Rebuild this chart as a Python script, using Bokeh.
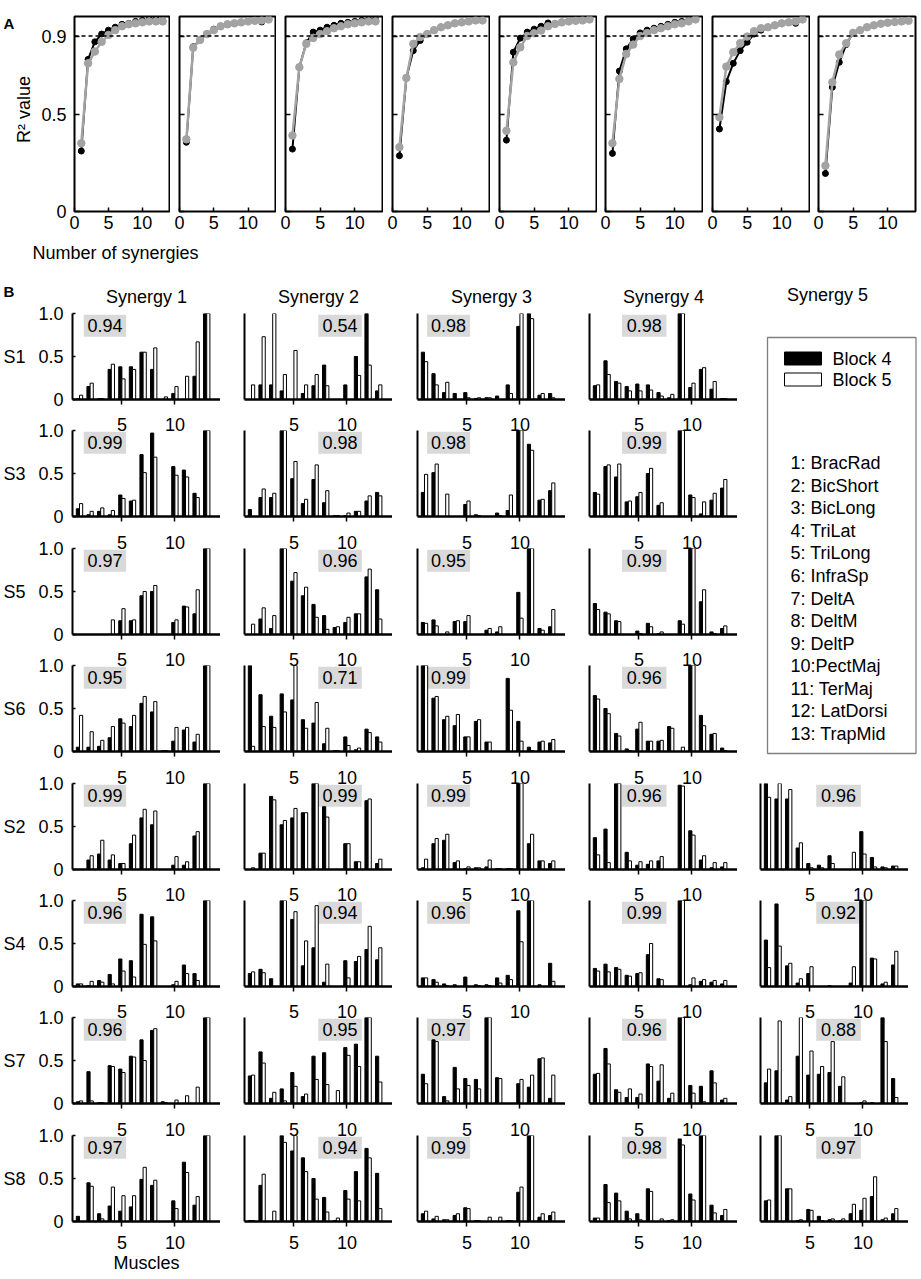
import numpy as np
from bokeh.plotting import figure
from bokeh.layouts import row, column
from bokeh.models import Range1d, FixedTicker, LinearAxis, Span
from bokeh.embed import file_html
from bokeh.resources import INLINE
from bokeh.core.properties import value

FONT = "Liberation Sans"
GREY = "#a3a3a3"
BOXGREY = "#d9d9d9"

# ---------------- Panel A data: R^2 vs number of synergies ----------------
n_synergies = list(range(1, 14))
p1_block4 = [0.31, 0.78, 0.87, 0.91, 0.93, 0.945, 0.96, 0.965, 0.975, 0.98, 0.985, 0.985, 0.98]
p1_block5 = [0.35, 0.76, 0.82, 0.87, 0.905, 0.93, 0.95, 0.96, 0.965, 0.97, 0.975, 0.975, 0.975]
p2_block4 = [0.355, 0.845, 0.88, 0.91, 0.935, 0.95, 0.96, 0.965, 0.97, 0.975, 0.98, 0.972, 0.985]
p2_block5 = [0.37, 0.84, 0.88, 0.91, 0.93, 0.95, 0.96, 0.965, 0.97, 0.975, 0.978, 0.98, 0.985]
p3_block4 = [0.32, 0.74, 0.865, 0.92, 0.93, 0.945, 0.955, 0.965, 0.97, 0.975, 0.98, 0.985, 0.985]
p3_block5 = [0.39, 0.74, 0.86, 0.89, 0.91, 0.925, 0.94, 0.95, 0.96, 0.965, 0.97, 0.975, 0.975]
p4_block4 = [0.286, 0.685, 0.825, 0.877, 0.91, 0.93, 0.945, 0.955, 0.965, 0.97, 0.975, 0.98, 0.98]
p4_block5 = [0.33, 0.685, 0.86, 0.895, 0.91, 0.93, 0.945, 0.955, 0.965, 0.97, 0.975, 0.98, 0.98]
p5_block4 = [0.366, 0.817, 0.889, 0.92, 0.935, 0.95, 0.967, 0.962, 0.97, 0.975, 0.978, 0.98, 0.985]
p5_block5 = [0.414, 0.765, 0.842, 0.90, 0.914, 0.928, 0.95, 0.962, 0.97, 0.975, 0.978, 0.98, 0.985]
p6_block4 = [0.298, 0.72, 0.834, 0.885, 0.916, 0.93, 0.94, 0.95, 0.96, 0.97, 0.975, 0.98, 0.985]
p6_block5 = [0.35, 0.68, 0.808, 0.856, 0.90, 0.915, 0.93, 0.94, 0.95, 0.96, 0.965, 0.975, 0.985]
p7_block4 = [0.423, 0.666, 0.76, 0.825, 0.868, 0.91, 0.93, 0.945, 0.955, 0.965, 0.97, 0.965, 0.985]
p7_block5 = [0.483, 0.743, 0.817, 0.863, 0.897, 0.925, 0.94, 0.945, 0.955, 0.965, 0.97, 0.975, 0.985]
p8_block4 = [0.195, 0.637, 0.765, 0.856, 0.916, 0.93, 0.945, 0.955, 0.963, 0.968, 0.972, 0.975, 0.978]
p8_block5 = [0.235, 0.663, 0.805, 0.863, 0.916, 0.93, 0.945, 0.955, 0.963, 0.968, 0.972, 0.975, 0.978]
panelA_block4 = [p1_block4, p2_block4, p3_block4, p4_block4, p5_block4, p6_block4, p7_block4, p8_block4]
panelA_block5 = [p1_block5, p2_block5, p3_block5, p4_block5, p5_block5, p6_block5, p7_block5, p8_block5]
r2_threshold = 0.9
A_yticks = [0, 0.5, 0.9]
A_xticks = [0, 5, 10]

# ---------------- Panel B data: synergy weights per muscle ----------------
muscles = list(range(1, 14))
muscle_names = ["1: BracRad", "2: BicShort", "3: BicLong", "4: TriLat", "5: TriLong",
                "6: InfraSp", "7: DeltA", "8: DeltM", "9: DeltP", "10:PectMaj",
                "11: TerMaj", "12: LatDorsi", "13: TrapMid"]
subjects = ["S1", "S3", "S5", "S6", "S2", "S4", "S7", "S8"]
synergy_titles = ["Synergy 1", "Synergy 2", "Synergy 3", "Synergy 4", "Synergy 5"]
block_labels = ["Block 4", "Block 5"]
block_fills = ["black", "white"]

S1_block4 = [[0.01, 0.15, 0.01, 0.35, 0.38, 0.38, 0.55, 0.35, 0.0, 0.07, 0.0, 0.27, 1.0],
             [0.0, 0.17, 0.17, 0.10, 0.0, 0.07, 0.16, 0.40, 0.0, 0.17, 0.50, 1.0, 0.10],
             [0.55, 0.30, 0.08, 0.07, 0.08, 0.01, 0.02, 0.04, 0.17, 0.85, 1.0, 0.05, 0.07],
             [0.16, 0.45, 0.21, 0.15, 0.18, 0.17, 0.08, 0.02, 1.0, 0.14, 0.35, 0.12, 0.01]]
S1_block5 = [[0.05, 0.19, 0.01, 0.41, 0.24, 0.35, 0.55, 0.60, 0.03, 0.15, 0.27, 0.67, 1.0],
             [0.17, 0.73, 1.0, 0.29, 0.57, 0.17, 0.29, 0.16, 0.0, 0.0, 0.28, 0.40, 0.17],
             [0.44, 0.17, 0.20, 0.0, 0.02, 0.02, 0.02, 0.0, 0.07, 1.0, 0.94, 0.07, 0.02],
             [0.17, 0.29, 0.19, 0.10, 0.10, 0.11, 0.04, 0.06, 1.0, 0.19, 0.37, 0.21, 0.01]]
S1_r2 = [0.94, 0.54, 0.98, 0.98]

S3_block4 = [[0.09, 0.02, 0.06, 0.02, 0.25, 0.18, 0.72, 0.97, 0.0, 0.58, 0.54, 0.27, 1.0],
             [0.08, 0.22, 0.22, 1.0, 0.44, 0.15, 0.43, 0.16, 0.01, 0.01, 0.06, 0.18, 0.28],
             [0.28, 0.51, 0.0, 0.0, 0.14, 0.02, 0.0, 0.04, 0.07, 1.0, 0.84, 0.19, 0.30],
             [0.28, 0.58, 0.46, 0.17, 0.23, 0.50, 0.13, 0.0, 1.0, 0.25, 0.03, 0.19, 0.33]]
S3_block5 = [[0.15, 0.06, 0.10, 0.07, 0.21, 0.19, 0.51, 0.69, 0.0, 0.48, 0.46, 0.22, 1.0],
             [0.0, 0.32, 0.27, 1.0, 0.64, 0.20, 0.60, 0.30, 0.01, 0.04, 0.06, 0.24, 0.24],
             [0.49, 0.61, 0.26, 0.0, 0.18, 0.01, 0.0, 0.01, 0.25, 1.0, 0.77, 0.20, 0.39],
             [0.26, 0.60, 0.61, 0.18, 0.28, 0.56, 0.16, 0.0, 1.0, 0.22, 0.17, 0.27, 0.43]]
S3_r2 = [0.99, 0.98, 0.98, 0.99]

S5_block4 = [[0.0, 0.0, 0.0, 0.0, 0.16, 0.16, 0.45, 0.50, 0.0, 0.14, 0.33, 0.24, 1.0],
             [0.0, 0.18, 0.07, 1.0, 0.62, 0.45, 0.35, 0.22, 0.08, 0.14, 0.24, 0.67, 0.52],
             [0.14, 0.17, 0.0, 0.15, 0.15, 0.0, 0.05, 0.03, 0.0, 0.49, 1.0, 0.07, 0.09],
             [0.36, 0.26, 0.16, 0.0, 0.04, 0.13, 0.01, 0.0, 0.16, 1.0, 0.38, 0.03, 0.07]]
S5_block5 = [[0.0, 0.0, 0.0, 0.17, 0.30, 0.17, 0.50, 0.57, 0.0, 0.17, 0.32, 0.52, 1.0],
             [0.12, 0.31, 0.22, 1.0, 0.72, 0.55, 0.20, 0.06, 0.09, 0.20, 0.24, 0.76, 0.18],
             [0.13, 0.10, 0.03, 0.16, 0.22, 0.0, 0.07, 0.09, 0.0, 0.19, 1.0, 0.05, 0.29],
             [0.29, 0.24, 0.15, 0.0, 0.01, 0.09, 0.03, 0.0, 0.12, 1.0, 0.52, 0.01, 0.10]]
S5_r2 = [0.97, 0.96, 0.95, 0.99]

S6_block4 = [[0.05, 0.05, 0.06, 0.16, 0.38, 0.29, 0.56, 0.46, 0.01, 0.12, 0.25, 0.11, 1.0],
             [1.0, 0.66, 0.41, 0.67, 0.60, 0.37, 0.33, 0.09, 0.01, 0.17, 0.02, 0.26, 0.17],
             [1.0, 0.62, 0.37, 0.30, 0.17, 0.35, 0.11, 0.0, 0.85, 0.35, 0.05, 0.11, 0.10],
             [0.65, 0.50, 0.21, 0.03, 0.26, 0.12, 0.12, 0.29, 0.0, 1.0, 0.42, 0.20, 0.04]]
S6_block5 = [[0.42, 0.23, 0.13, 0.29, 0.33, 0.42, 0.64, 0.58, 0.01, 0.28, 0.28, 0.20, 1.0],
             [0.06, 0.29, 0.28, 0.46, 1.0, 0.27, 0.57, 0.27, 0.01, 0.07, 0.04, 0.22, 0.11],
             [1.0, 0.64, 0.41, 0.43, 0.17, 0.37, 0.11, 0.0, 0.48, 0.12, 0.01, 0.12, 0.14],
             [0.61, 0.44, 0.18, 0.01, 0.34, 0.12, 0.13, 0.27, 0.05, 1.0, 0.30, 0.21, 0.01]]
S6_r2 = [0.95, 0.71, 0.99, 0.96]

S2_block4 = [[0.0, 0.11, 0.18, 0.11, 0.07, 0.30, 0.60, 0.52, 0.0, 0.05, 0.05, 0.39, 1.0],
             [0.0, 0.19, 0.85, 0.52, 0.60, 0.66, 1.0, 0.73, 0.0, 0.30, 0.09, 0.80, 0.07],
             [0.02, 0.30, 0.34, 0.08, 0.01, 0.02, 0.03, 0.01, 0.01, 1.0, 0.30, 0.10, 0.07],
             [0.37, 0.47, 1.0, 0.20, 0.05, 0.06, 0.10, 0.0, 0.98, 0.45, 0.11, 0.02, 0.03],
             [1.0, 0.82, 0.82, 0.25, 0.07, 0.05, 0.16, 0.0, 0.0, 0.44, 0.14, 0.03, 0.04]]
S2_block5 = [[0.0, 0.16, 0.34, 0.17, 0.07, 0.40, 0.70, 0.68, 0.0, 0.15, 0.09, 0.44, 1.0],
             [0.02, 0.19, 0.81, 0.57, 0.71, 0.66, 1.0, 0.61, 0.0, 0.30, 0.09, 0.82, 0.12],
             [0.12, 0.36, 0.41, 0.10, 0.03, 0.02, 0.11, 0.01, 0.01, 1.0, 0.41, 0.10, 0.10],
             [0.17, 0.08, 1.0, 0.10, 0.09, 0.10, 0.15, 0.0, 0.97, 0.40, 0.16, 0.08, 0.08],
             [0.84, 1.0, 0.93, 0.31, 0.02, 0.02, 0.07, 0.0, 0.20, 0.18, 0.03, 0.02, 0.04]]
S2_r2 = [0.99, 0.99, 0.99, 0.96, 0.96]

S4_block4 = [[0.03, 0.01, 0.07, 0.14, 0.32, 0.30, 0.84, 0.81, 0.0, 0.02, 0.25, 0.15, 1.0],
             [0.15, 0.20, 0.09, 1.0, 0.78, 0.24, 0.45, 0.05, 0.0, 0.30, 0.29, 0.43, 0.31],
             [0.10, 0.08, 0.03, 0.02, 0.11, 0.02, 0.02, 0.10, 0.13, 0.88, 1.0, 0.02, 0.27],
             [0.21, 0.26, 0.22, 0.13, 0.15, 0.37, 0.09, 0.0, 1.0, 0.02, 0.06, 0.05, 0.03],
             [0.54, 0.96, 0.24, 0.04, 0.15, 0.0, 0.01, 0.0, 0.04, 1.0, 0.33, 0.03, 0.25]]
S4_block5 = [[0.03, 0.06, 0.05, 0.03, 0.18, 0.11, 0.49, 0.53, 0.0, 0.06, 0.15, 0.07, 1.0],
             [0.17, 0.16, 0.0, 1.0, 0.87, 0.53, 0.94, 0.26, 0.0, 0.10, 0.35, 0.70, 0.45],
             [0.10, 0.05, 0.01, 0.0, 0.0, 0.01, 0.01, 0.04, 0.08, 0.52, 1.0, 0.0, 0.06],
             [0.18, 0.17, 0.20, 0.12, 0.16, 0.50, 0.08, 0.0, 1.0, 0.10, 0.08, 0.07, 0.07],
             [0.22, 0.47, 0.27, 0.09, 0.23, 0.0, 0.0, 0.0, 0.23, 1.0, 0.32, 0.05, 0.41]]
S4_r2 = [0.96, 0.94, 0.96, 0.99, 0.92]

S7_block4 = [[0.02, 0.37, 0.01, 0.44, 0.40, 0.55, 0.74, 0.85, 0.02, 0.0, 0.0, 0.0, 1.0],
             [0.32, 0.60, 0.06, 0.17, 0.36, 0.08, 0.55, 0.59, 0.0, 0.65, 0.69, 1.0, 0.55],
             [0.34, 0.74, 0.08, 0.42, 0.29, 0.28, 1.0, 0.30, 0.0, 0.23, 0.19, 0.52, 0.06],
             [0.34, 0.64, 0.16, 0.07, 0.07, 0.46, 0.26, 0.06, 1.0, 0.21, 0.20, 0.38, 0.04],
             [0.24, 0.38, 0.04, 0.55, 0.33, 0.34, 0.36, 0.20, 0.0, 0.01, 0.01, 1.0, 0.29]]
S7_block5 = [[0.03, 0.03, 0.01, 0.43, 0.36, 0.54, 0.50, 0.87, 0.01, 0.04, 0.09, 0.19, 1.0],
             [0.33, 0.47, 0.13, 0.03, 0.20, 0.11, 0.28, 0.22, 0.15, 0.56, 0.43, 1.0, 0.25],
             [0.23, 0.72, 0.03, 0.17, 0.21, 0.17, 1.0, 0.29, 0.0, 0.28, 0.33, 0.53, 0.33],
             [0.35, 0.46, 0.13, 0.17, 0.11, 0.43, 0.45, 0.12, 1.0, 0.12, 0.02, 0.24, 0.06],
             [0.40, 0.96, 0.08, 1.0, 0.61, 0.43, 0.72, 0.31, 0.0, 0.03, 0.0, 0.72, 0.07]]
S7_r2 = [0.96, 0.95, 0.97, 0.96, 0.88]

S8_block4 = [[0.06, 0.45, 0.09, 0.18, 0.12, 0.17, 0.49, 0.42, 0.0, 0.24, 0.69, 0.19, 1.0],
             [0.01, 0.42, 0.0, 1.0, 0.82, 0.74, 0.50, 0.28, 0.01, 0.36, 0.58, 0.85, 0.56],
             [0.09, 0.03, 0.02, 0.07, 0.16, 0.01, 0.0, 0.0, 0.01, 0.34, 1.0, 0.05, 0.07],
             [0.04, 0.43, 0.33, 0.12, 0.09, 0.38, 0.0, 0.01, 0.96, 0.32, 1.0, 0.19, 0.07],
             [0.24, 1.0, 0.38, 0.01, 0.14, 0.06, 0.02, 0.01, 0.09, 0.13, 0.29, 0.02, 0.09]]
S8_block5 = [[0.0, 0.41, 0.03, 0.40, 0.30, 0.30, 0.63, 0.48, 0.0, 0.15, 0.57, 0.29, 1.0],
             [0.01, 0.55, 0.12, 0.92, 1.0, 0.58, 0.26, 0.11, 0.04, 0.26, 0.24, 0.74, 0.15],
             [0.12, 0.06, 0.02, 0.09, 0.15, 0.01, 0.05, 0.05, 0.01, 0.40, 1.0, 0.09, 0.11],
             [0.04, 0.22, 0.24, 0.03, 0.02, 0.35, 0.03, 0.02, 0.89, 0.25, 1.0, 0.10, 0.14],
             [0.25, 1.0, 0.38, 0.02, 0.13, 0.01, 0.03, 0.03, 0.20, 0.27, 0.52, 0.04, 0.15]]
S8_r2 = [0.97, 0.94, 0.99, 0.98, 0.97]

block4_by_subject = [S1_block4, S3_block4, S5_block4, S6_block4, S2_block4, S4_block4, S7_block4, S8_block4]
block5_by_subject = [S1_block5, S3_block5, S5_block5, S6_block5, S2_block5, S4_block5, S7_block5, S8_block5]
r2_by_subject = [S1_r2, S3_r2, S5_r2, S6_r2, S2_r2, S4_r2, S7_r2, S8_r2]
B_yticks = [0, 0.5, 1]
B_xticks = [5, 10]

# ---------------- layout constants (pixels) ----------------
LA_W = 38
A_TOP, A_FH, A_BOT = 16, 195, 27
A_H = A_TOP + A_FH + A_BOT
A_LEFT = [35, 9, 9, 9, 9, 8, 9, 8]
A_FW = [96, 96, 97, 97, 97, 97, 97, 97]
A_RIGHT = [1, 1, 1, 1, 1, 1, 1, 2]
NA_H = 28

LB_W = 30
B_LEFT = [42, 24, 25, 24, 23]
FW, FH = 148, 86
B_TOPS = [47, 21, 22, 21, 22, 21, 21, 22]
B_BOTS = [10, 10, 10, 10, 10, 10, 10, 57]
X_START, X_END = 0.34, 14.3
BAR_W, BAR_OFF = 0.3, 0.15
BOX_X = [(1.4, 5.4), (7.3, 11.4), (1.25, 5.3), (3.4, 7.6), (5.6, 9.8)]
BOX_Y = (0.73, 0.985)


def fontify_axis(ax, hidden=False):
    ax.major_label_text_font = FONT
    ax.major_label_text_font_size = "1px" if hidden else "18px"
    ax.major_label_text_color = None if hidden else "black"
    ax.axis_label_text_font = FONT
    ax.axis_label_text_font_size = "18px"
    ax.axis_label_text_font_style = "normal"
    ax.axis_label_text_color = "black"
    ax.minor_tick_line_color = None


def blank_fig(w, h):
    p = figure(width=w, height=h, x_range=Range1d(0, w), y_range=Range1d(h, 0),
               x_axis_location=None, y_axis_location=None, min_border=0, title=None,
               toolbar_location=None, output_backend="svg")
    p.outline_line_color = None
    p.grid.visible = False
    return p


# ---------------- Panel A ----------------
def make_A(i):
    p = figure(width=A_LEFT[i] + A_FW[i] + A_RIGHT[i], height=A_H,
               x_range=Range1d(0, 14), y_range=Range1d(0, 1.0),
               min_border_left=A_LEFT[i], min_border_right=A_RIGHT[i],
               min_border_top=A_TOP, min_border_bottom=A_BOT,
               toolbar_location=None, output_backend="svg")
    p.outline_line_color = "black"
    p.outline_line_width = 2
    p.xgrid.visible = False
    p.ygrid.visible = False
    xa = p.below[0]
    fontify_axis(xa)
    xa.ticker = FixedTicker(ticks=A_xticks)
    xa.axis_line_color = None
    xa.major_tick_in = 4
    xa.major_tick_out = 0
    xa.major_tick_line_width = 1.5
    xa.major_label_standoff = 4
    ya = p.left[0]
    ya.ticker = FixedTicker(ticks=A_yticks)
    ya.axis_line_color = None
    ya.major_tick_in = 5
    ya.major_tick_out = 0
    ya.major_tick_line_width = 1.5
    if i == 0:
        fontify_axis(ya)
        ya.major_label_overrides = {0: "0", 0.5: "0.5", 0.9: "0.9"}
        ya.major_label_standoff = 8
    else:
        fontify_axis(ya, hidden=True)
        ya.major_label_standoff = 0
    p.add_layout(Span(location=r2_threshold, dimension="width", line_color="black",
                      line_width=1.5, line_dash="4 3"))
    p.line(n_synergies, panelA_block4[i], line_color="black", line_width=2)
    p.scatter(n_synergies, panelA_block4[i], size=6, fill_color="black", line_color="black")
    p.line(n_synergies, panelA_block5[i], line_color=GREY, line_width=2.5)
    p.scatter(n_synergies, panelA_block5[i], size=7.5, fill_color=GREY, line_color=GREY)
    return p


la = blank_fig(LA_W, A_H)
la.text(x=[3], y=[8], text=["A"], text_font=value(FONT), text_font_size="15px",
        text_font_style="bold", text_align="left", text_baseline="middle", text_color="black")
la.text(x=[23], y=[A_TOP + A_FH / 2], text=["R\u00b2 value"], angle=np.pi / 2,
        text_font=value(FONT), text_font_size="18px", text_align="center",
        text_baseline="middle", text_color="black")

rowA = row([la] + [make_A(i) for i in range(8)])

na = blank_fig(260, NA_H)
na.text(x=[115], y=[14], text=["Number of synergies"], text_font=value(FONT),
        text_font_size="18px", text_align="center", text_baseline="middle", text_color="black")


# ---------------- Panel B ----------------
def make_B(r, c):
    T, Bt, L = B_TOPS[r], B_BOTS[r], B_LEFT[c]
    last = (r == len(subjects) - 1)
    p = figure(width=L + FW, height=T + FH + Bt,
               x_range=Range1d(X_START, X_END), y_range=Range1d(0, 1),
               min_border_left=L, min_border_right=0, min_border_top=T, min_border_bottom=Bt,
               toolbar_location=None, output_backend="svg",
               title=(synergy_titles[c] if r == 0 else None))
    if r == 0:
        p.title.align = "center"
        p.title.text_font = FONT
        p.title.text_font_size = "18px"
        p.title.text_font_style = "normal"
        p.title.text_color = "black"
        p.title.standoff = 13
    p.outline_line_color = None
    p.xgrid.visible = False
    p.ygrid.visible = False
    xa = p.below[0]
    xa.ticker = FixedTicker(ticks=B_xticks)
    xa.axis_line_width = 2.5
    xa.axis_line_color = "black"
    xa.major_tick_in = 0
    xa.major_tick_out = 5
    xa.major_tick_line_width = 1.5
    if last:
        fontify_axis(xa)
        xa.major_label_standoff = 9
        if c == 0:
            xa.axis_label = "Muscles"
            xa.axis_label_standoff = 1
    else:
        fontify_axis(xa, hidden=True)
        xa.major_label_standoff = 0
    ya = p.left[0]
    ya.axis_line_width = 2
    ya.axis_line_color = "black"
    if c == 0:
        fontify_axis(ya)
        ya.ticker = FixedTicker(ticks=B_yticks)
        ya.major_label_overrides = {0: "0", 0.5: "0.5", 1: "1.0"}
        ya.major_tick_in = 3
        ya.major_tick_out = 0
        ya.major_tick_line_width = 1.5
        ya.major_label_standoff = 9
    else:
        fontify_axis(ya, hidden=True)
        ya.ticker = FixedTicker(ticks=[])
        ya.major_tick_in = 0
        ya.major_tick_out = 0
        ya.major_label_standoff = 0
    # tick labels "5" / "10" of the row above, drawn by an axis along this row's top edge
    if r > 0 and (c < 4 or r > 4):
        top = LinearAxis(ticker=FixedTicker(ticks=B_xticks), axis_line_color=None,
                         major_tick_line_color=None, major_tick_in=0, major_tick_out=0,
                         major_label_standoff=0)
        fontify_axis(top)
        p.add_layout(top, "above")
    b4 = block4_by_subject[r][c]
    b5 = block5_by_subject[r][c]
    r2 = r2_by_subject[r][c]
    x0, x1 = BOX_X[c]
    p.quad(left=[x0], right=[x1], bottom=[BOX_Y[0]], top=[BOX_Y[1]],
           fill_color=BOXGREY, line_color=None)
    p.text(x=[(x0 + x1) / 2], y=[(BOX_Y[0] + BOX_Y[1]) / 2], text=[f"{r2:.2f}"],
           text_font=value(FONT), text_font_size="18px", text_align="center",
           text_baseline="middle", text_color="black")
    xs = np.array(muscles, dtype=float)
    p.vbar(x=xs - BAR_OFF, top=b4, width=BAR_W, bottom=0,
           fill_color="black", line_color="black", line_width=1)
    p.vbar(x=xs + BAR_OFF, top=b5, width=BAR_W, bottom=0,
           fill_color="white", line_color="black", line_width=1)
    return p


ncols = [len(v) for v in r2_by_subject]
b_rows = [row([make_B(r, c) for c in range(ncols[r])]) for r in range(len(subjects))]

# legend figure (fills the empty Synergy-5 column of the first four rows)
LEG_H = sum(B_TOPS[r] + FH + B_BOTS[r] for r in range(4))
LEG_W = 180
leg = blank_fig(LEG_W, LEG_H)
leg.text(x=[90], y=[28], text=[synergy_titles[4]], text_font=value(FONT), text_font_size="18px",
         text_align="center", text_baseline="middle", text_color="black")
leg.quad(left=[30], right=[LEG_W - 1.5], top=[71], bottom=[487], fill_color=None,
         line_color="#808080", line_width=1.3)
sw_y = [92, 113]
leg.quad(left=[47, 47], right=[84, 84], top=[y - 6.5 for y in sw_y], bottom=[y + 6.5 for y in sw_y],
         fill_color=block_fills, line_color="black", line_width=1)
leg.text(x=[95, 95], y=sw_y, text=block_labels, text_font=value(FONT), text_font_size="18px",
         text_align="left", text_baseline="middle", text_color="black")
leg.text(x=[53] * len(muscle_names), y=[196.7 + 22.55 * i for i in range(len(muscle_names))],
         text=muscle_names, text_font=value(FONT), text_font_size="18px",
         text_align="left", text_baseline="middle", text_color="black")

top_block = row([column(b_rows[:4]), leg])
b_block = column([top_block] + b_rows[4:])

# row labels figure ("B", "S1" ... "S8")
LB_H = sum(B_TOPS[r] + FH + B_BOTS[r] for r in range(len(subjects)))
frame_tops = []
acc = 0
for r in range(len(subjects)):
    frame_tops.append(acc + B_TOPS[r])
    acc += B_TOPS[r] + FH + B_BOTS[r]
lb = blank_fig(LB_W, LB_H)
lb.text(x=[3], y=[25], text=["B"], text_font=value(FONT), text_font_size="15px",
        text_font_style="bold", text_align="left", text_baseline="middle", text_color="black")
lb.text(x=[3] * len(subjects), y=[t + FH / 2 for t in frame_tops], text=subjects,
        text_font=value(FONT), text_font_size="18px", text_align="left",
        text_baseline="middle", text_color="black")

rowB = row([lb, b_block])
page = column([rowA, na, rowB])

with open("out.html", "w") as f:
    f.write(file_html(page, INLINE, title="Muscle synergies"))
